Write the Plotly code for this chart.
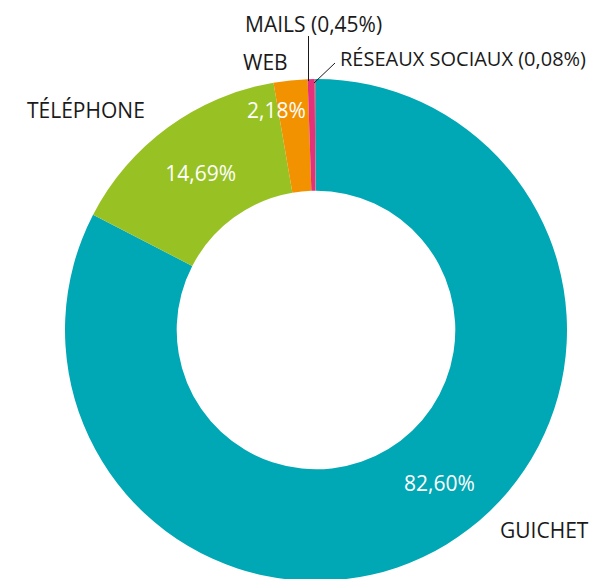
import plotly.graph_objects as go

categories = ["GUICHET", "TÉLÉPHONE", "WEB", "MAILS", "RÉSEAUX SOCIAUX"]
values = [82.60, 14.69, 2.18, 0.45, 0.08]
colors = ["#00A7B4", "#98C224", "#F39200", "#E5307B", "#8C8C8C"]

W, H = 601, 579
OFF = 8  # page body margin in the browser
FONT = "Open Sans"
LBL = 21

def fmt(v):
    return f"{v:.2f}".replace(".", ",") + "%"

texts = [fmt(v) for v in values]
positions = ["none", "inside", "none", "none", "none"]

# target (page px): centre (316, 330), outer radius 251
cx, cy, R = 316 - OFF, 330 - OFF, 251
fig = go.Figure(go.Pie(
    labels=categories,
    values=values,
    sort=False,
    direction="clockwise",
    rotation=0,
    hole=0.555,
    marker=dict(colors=colors, line=dict(width=0)),
    text=texts,
    textinfo="text",
    textposition=positions,
    insidetextorientation="horizontal",
    insidetextfont=dict(color="white", size=LBL, family=FONT),
    domain=dict(x=[(cx - R) / W, (cx + R) / W], y=[1 - (cy + R) / H, 1 - (cy - R) / H]),
    showlegend=False,
    hoverinfo="label+percent",
))

def px(x, y):
    return (x - OFF) / W, 1 - (y - OFF) / H

annos = []
def label(text, x, y, anchor="left", color="#1a1a1a", size=LBL):
    ax, ay = px(x, y)
    annos.append(dict(text=text, x=ax, y=ay, xref="paper", yref="paper",
                      xanchor=anchor, yanchor="middle", showarrow=False,
                      font=dict(family=FONT, size=size, color=color)))

label(categories[1], 25, 110)
label(categories[2], 241, 62)
label(f"{categories[3]} ({fmt(values[3])})", 243, 24)
label(f"{categories[4]} ({fmt(values[4])})", 338, 59, size=20)
label(categories[0], 498, 530)
label(fmt(values[2]), 276, 110, anchor="center", color="white")
label(fmt(values[0]), 439, 483, anchor="center", color="white")

shapes = []
x0, y0 = px(308.5, 36)
x1, y1 = px(308.5, 81)
shapes.append(dict(type="line", xref="paper", yref="paper", x0=x0, y0=y0, x1=x1, y1=y1,
                   line=dict(color="#1a1a1a", width=1)))
x0, y0 = px(335, 63)
x1, y1 = px(314, 83)
shapes.append(dict(type="line", xref="paper", yref="paper", x0=x0, y0=y0, x1=x1, y1=y1,
                   line=dict(color="#1a1a1a", width=1)))

fig.update_layout(
    width=W, height=H,
    margin=dict(l=0, r=0, t=0, b=0),
    paper_bgcolor="white", plot_bgcolor="white",
    annotations=annos, shapes=shapes,
    font=dict(family=FONT),
)

fig.write_html("out.html")
